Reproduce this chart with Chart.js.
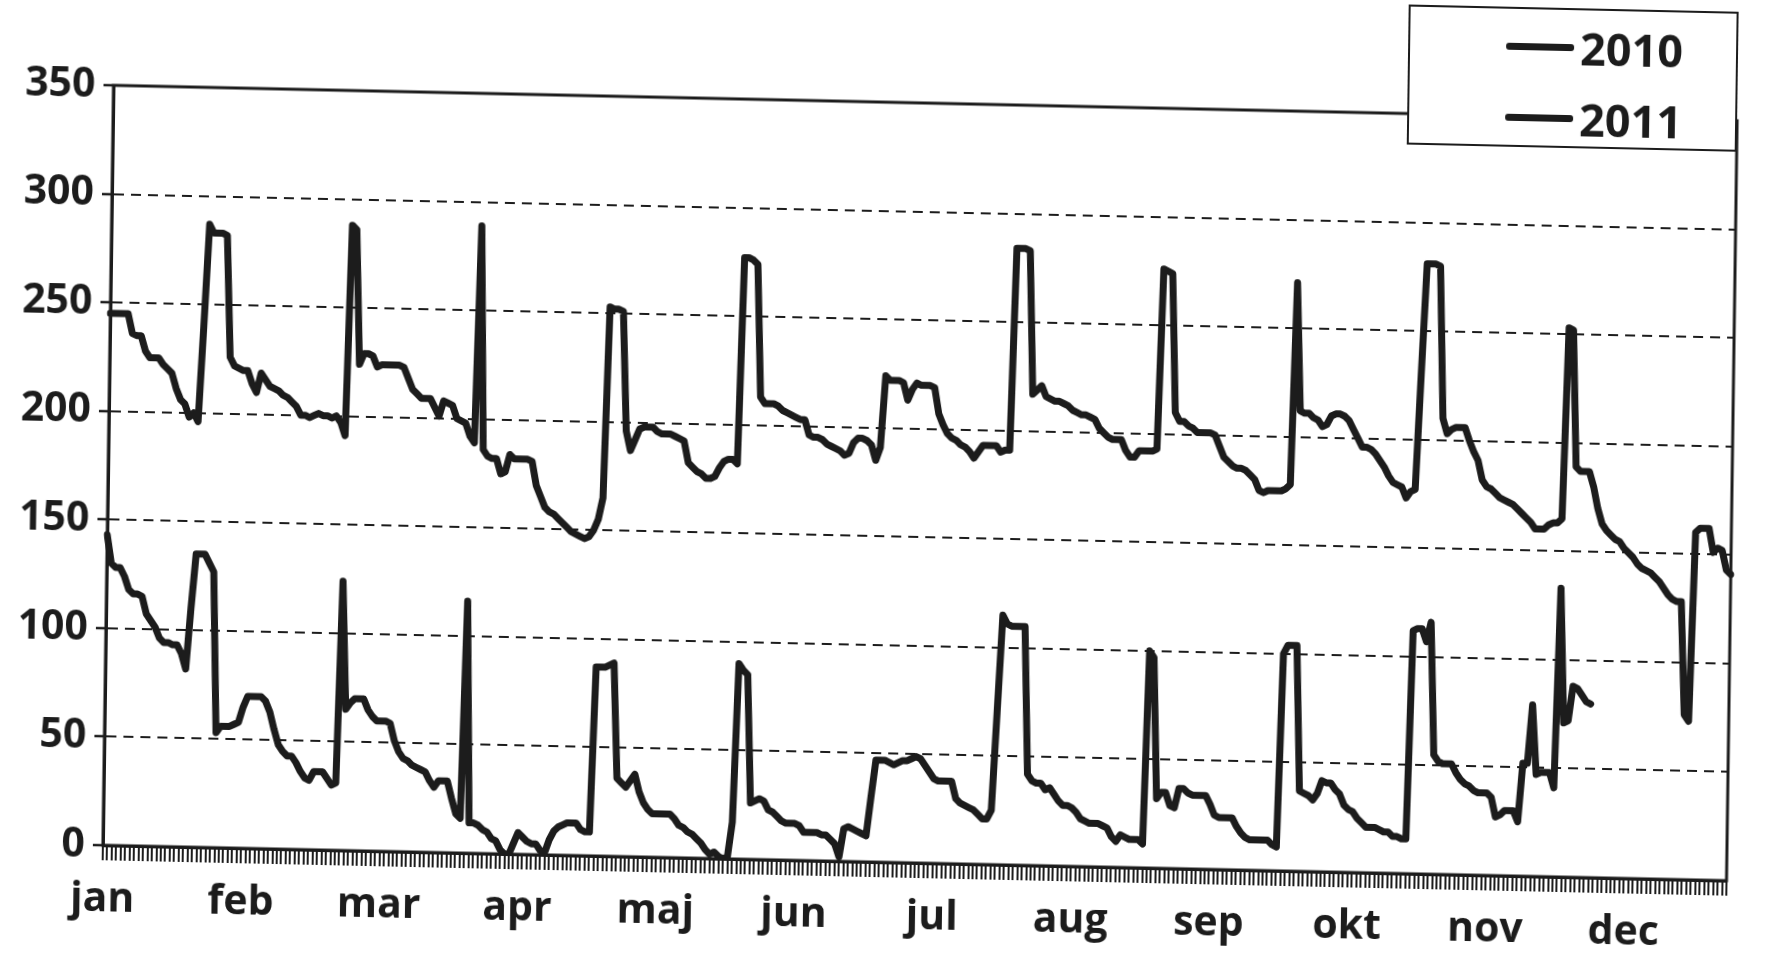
<!DOCTYPE html>
<html><head><meta charset="utf-8">
<script src="https://cdn.jsdelivr.net/npm/chart.js@4/dist/chart.umd.min.js"></script>
<style>
html,body{margin:0;background:#fff;overflow:hidden}
#wrap{position:absolute;left:0;top:0;width:1780px;height:955px;transform-origin:920px 483px;transform:matrix(0.99976,0.02181,-0.01396,0.9999,0,0)}
#legend{position:absolute;left:1402px;top:-6px;width:330px;height:140px;box-sizing:border-box;border:2px solid #1c1c1c;background:#fff;font:bold 45px "Open Sans",sans-serif;color:#1c1c1c}
.row{position:absolute;left:96px;height:50px;display:flex;align-items:center}
.sw{display:inline-block;width:68px;height:7px;background:#1c1c1c;margin-right:6px;border-radius:3px}
</style></head><body>
<div id="wrap"><canvas id="c" width="1780" height="955"></canvas><div id="legend"></div></div>
<script>
const monthLabels=['jan','feb','mar','apr','maj','jun','jul','aug','sep','okt','nov','dec'];
const labelEvery=31;
const yTicks=[0,50,100,150,200,250,300,350];

// daglige værdier, en række pr. måned
const v2010=[
245,245,245,245,245,236,235,235,228,225,225,225,222,220,218,211,206,204,198,200,196,240,287,283,283,283,282,226,222,221,220,
220,214,210,219,216,213,212,211,209,208,206,204,200,200,199,200,201,200,200,199,200,197,191,288,286,224,229,229,
228,223,224,224,224,224,224,223,218,213,211,209,209,209,205,201,208,207,206,200,199,198,192,189,289,186,183,182,182,175,176,
184,182,182,182,182,181,170,165,160,158,157,155,153,151,149,148,147,146,147,150,155,165,253,252,252,251,196,187,192,197,
198,198,198,196,195,195,195,194,193,192,182,180,178,177,175,175,176,180,183,184,184,182,277,277,276,274,213,210,210,210,209,
207,206,205,204,203,203,196,195,195,194,192,191,190,189,187,188,193,195,195,194,192,185,191,224,222,222,222,221,213,218,
221,220,220,220,219,207,202,198,196,195,193,192,190,187,190,193,193,193,193,190,191,191,284,284,284,283,217,219,221,216,215,
214,214,213,212,210,209,208,208,207,206,202,200,198,197,197,197,192,189,189,192,192,192,192,193,276,275,274,210,206,206,204,
203,201,201,201,201,200,195,190,188,186,185,185,184,182,180,175,174,175,175,175,175,176,178,271,212,211,211,209,208,205,
206,210,211,211,210,208,204,200,196,196,195,193,190,187,183,180,179,178,173,176,177,230,281,281,281,280,210,203,205,206,206,
206,200,195,191,182,179,178,176,174,173,172,171,169,167,165,163,160,160,160,162,163,163,165,253,252,189,187,187,187,180,
170,163,160,158,156,155,152,150,148,145,143,142,141,139,137,134,131,129,128,128,76,73,160,162,162,162,151,153,152,143,141
];
const v2011=[
143,130,128,128,124,118,116,116,115,107,104,101,96,94,94,93,93,89,82,110,135,135,135,131,127,53,56,56,56,57,58,
65,70,70,70,70,68,63,55,48,45,43,43,40,36,33,32,36,36,36,33,30,31,124,65,68,70,70,70,
65,62,60,60,60,59,51,46,43,42,40,39,38,37,33,30,33,33,33,25,18,16,116,14,14,13,11,10,7,6,2,
0,0,5,10,8,6,5,5,2,1,7,11,13,14,15,15,15,12,11,11,87,87,87,88,89,36,34,32,35,38,
30,25,22,20,20,20,20,20,18,15,14,12,11,9,7,4,2,3,1,0,1,17,90,87,85,26,27,28,27,23,22,
20,18,17,17,17,16,13,13,13,13,12,12,10,8,2,15,16,15,14,13,12,30,47,47,47,46,45,46,47,47,
48,49,48,45,42,39,38,38,38,38,30,28,27,26,25,23,21,21,25,70,115,111,110,110,110,110,42,39,38,38,35,
36,33,30,28,28,27,25,22,21,20,20,20,19,18,14,12,15,14,13,13,13,11,100,97,32,35,35,29,28,37,37,
35,34,34,34,34,30,25,24,24,24,24,20,17,15,14,14,14,14,14,12,11,100,104,104,104,37,36,35,33,36,
42,41,41,38,36,31,29,28,25,23,21,21,21,20,19,19,17,17,16,16,112,113,113,107,116,55,52,51,51,51,47,
44,42,41,39,38,38,38,36,27,28,30,30,30,25,52,52,79,47,48,48,48,41,133,71,72,88,87,84,81,80
];
const days=v2010.map((_,i)=>String(i+1));

const ink='#1c1c1c';
const font={family:'"Open Sans", sans-serif',size:41,weight:'bold'};
const frame={id:'frame',afterDraw(c){const {ctx,chartArea:a}=c;ctx.save();ctx.strokeStyle=ink;ctx.lineWidth=3;ctx.strokeRect(a.left,a.top,a.right-a.left,a.bottom-a.top);ctx.restore();}};
const line=(label,data)=>({label,data,borderColor:ink,borderWidth:7,pointRadius:0,tension:0,fill:false,borderJoinStyle:'round',borderCapStyle:'round'});

const chart=new Chart(document.getElementById('c'),{type:'line',
  data:{labels:days,datasets:[line('2010',v2010),line('2011',v2011)]},
  options:{responsive:false,animation:false,devicePixelRatio:1,
    layout:{padding:{top:103,right:48,left:0,bottom:0}},
    plugins:{legend:{display:false},tooltip:{enabled:false}},
    scales:{
      x:{type:'category',offset:false,
        grid:{drawOnChartArea:false,drawTicks:true,tickLength:15,color:ink,lineWidth:2},
        border:{display:true,color:ink,width:3},
        ticks:{autoSkip:false,maxRotation:0,minRotation:0,padding:15,color:ink,font,
          callback:(v,i)=>i%labelEvery===0?monthLabels[i/labelEvery]:''},
        afterFit:s=>{s.height=92}},
      y:{min:yTicks[0],max:yTicks[yTicks.length-1],
        afterBuildTicks:s=>{s.ticks=yTicks.map(v=>({value:v}))},
        ticks:{padding:8,color:ink,font},
        grid:{color:ink,lineWidth:2,tickLength:10,tickWidth:2.5,tickColor:ink},
        border:{display:true,color:ink,width:3,dash:[10,7]},
        afterFit:s=>{s.width=108}}
    }},
  plugins:[frame]});

const lg=document.getElementById('legend');
chart.data.datasets.forEach((d,i)=>{const r=document.createElement('div');r.className='row';r.style.top=(12+i*71)+'px';r.innerHTML='<span class="sw"></span>'+d.label;lg.appendChild(r);});
</script></body></html>
